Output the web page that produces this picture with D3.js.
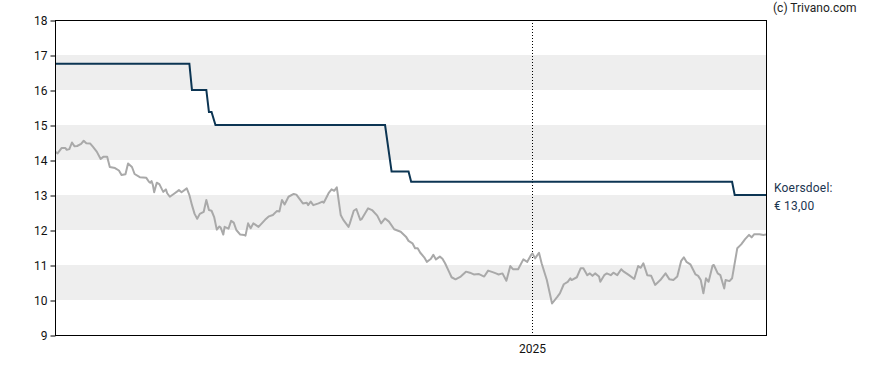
<!DOCTYPE html>
<html>
<head>
<meta charset="utf-8">
<script src="https://cdn.jsdelivr.net/npm/d3@7/dist/d3.min.js"></script>
<style>
  html, body { margin: 0; padding: 0; background: #fff; }
  svg { display: block; font-family: Roboto, "Noto Sans", sans-serif; }
</style>
</head>
<body>
<svg id="chart" width="888" height="370"></svg>
<script>
// ---- Data ----
const startDate = new Date(2024, 0, 1);
const endDate = new Date(2025, 5, 29);
const yTicks = [9, 10, 11, 12, 13, 14, 15, 16, 17, 18];
const bands = [[10, 11], [12, 13], [14, 15], [16, 17]];
const xTickDates = [new Date(2025, 0, 1)];
const xTickLabels = ["2025"];

// Koers (price), days since start date
const priceDays = [0,2,5,8,9,11,13,15,17,20,22,24,27,29,32,35,37,40,42,46,49,51,54,56,59,61,65,70,72,73,74,75,76,78,80,82,83,85,86,88,91,94,95,97,101,103,105,107,109,111,114,116,118,120,122,124,126,127,129,130,133,135,137,139,142,145,146,148,150,152,156,161,164,167,170,172,174,176,179,183,185,188,190,193,194,196,198,202,205,206,210,212,214,216,219,221,225,226,229,231,234,235,240,243,247,250,253,256,260,265,269,271,274,276,278,280,283,285,288,290,292,295,297,299,302,304,307,311,315,318,321,325,329,332,336,338,340,343,346,349,351,355,359,362,365,366,368,371,373,377,381,385,387,390,393,395,396,400,403,405,408,410,412,414,417,418,421,423,426,428,431,434,436,440,444,447,449,451,454,457,460,464,468,471,474,477,480,482,484,487,491,493,495,497,499,501,504,505,508,510,513,514,517,519,523,526,529,532,534,536,540,543,545];
const priceValues = [14.24,14.19,14.34,14.34,14.29,14.31,14.50,14.39,14.40,14.46,14.55,14.48,14.47,14.38,14.24,14.03,14.09,14.09,13.80,13.77,13.70,13.57,13.59,13.90,13.80,13.60,13.51,13.49,13.38,13.35,13.40,13.29,13.08,13.35,13.31,13.16,13.09,13.16,13.05,12.95,13.03,13.11,13.14,13.08,13.19,13.00,12.71,12.46,12.32,12.46,12.52,12.86,12.57,12.55,12.37,12.01,12.10,12.07,11.87,12.09,12.04,12.26,12.21,12.00,11.87,11.86,11.84,12.19,12.05,12.19,12.09,12.29,12.39,12.43,12.54,12.53,12.86,12.73,12.95,13.03,13.01,12.86,12.76,12.78,12.71,12.81,12.71,12.76,12.81,12.78,13.07,13.16,13.12,13.22,12.43,12.29,12.09,12.19,12.55,12.60,12.29,12.31,12.62,12.57,12.41,12.19,12.33,12.24,12.02,11.95,11.81,11.69,11.62,11.48,11.48,11.35,11.22,11.09,11.17,11.29,11.16,11.24,11.18,11.05,10.81,10.65,10.59,10.67,10.81,10.78,10.73,10.74,10.67,10.84,10.79,10.76,10.73,10.76,10.55,10.97,10.88,10.88,11.16,11.09,11.29,11.33,11.19,11.35,11.05,10.57,9.90,10.09,10.19,10.45,10.52,10.62,10.57,10.65,10.91,10.91,10.71,10.76,10.69,10.76,10.67,10.52,10.71,10.76,10.71,10.78,10.71,10.88,10.81,10.71,10.60,10.97,10.92,11.05,10.71,10.69,10.43,10.57,10.76,10.59,10.57,10.67,11.12,11.22,11.09,11.02,10.73,10.69,10.57,10.19,10.62,10.52,10.98,11.00,10.76,10.71,10.33,10.57,10.54,10.62,11.48,11.59,11.74,11.86,11.79,11.88,11.88,11.86,11.87];

// Koersdoel (price target)
const targetDays = [0,103,105,116,118,120,123,253,258,271,273,519,521,545];
const targetValues = [16.75,16.75,16.00,16.00,15.37,15.37,15.00,15.00,13.67,13.67,13.38,13.38,13.00,13.00];

const targetLabel = ["Koersdoel:", "€ 13,00"];
const copyright = "(c) Trivano.com";

// ---- Layout ----
const margin = { left: 55, right: 122, top: 20, bottom: 35 };
const W = 888, H = 370;
const svg = d3.select("#chart");
const x = d3.scaleTime().domain([startDate, endDate]).range([margin.left, W - margin.right]);
const y = d3.scaleLinear().domain([9, 18]).range([H - margin.bottom, margin.top]);
const dayToDate = d => d3.timeDay.offset(startDate, d);

svg.append("defs").append("clipPath").attr("id", "clip")
  .append("rect").attr("x", x.range()[0]).attr("y", y(18))
  .attr("width", x.range()[1] - x.range()[0]).attr("height", y(9) - y(18));

// bands
svg.append("g").selectAll("rect").data(bands).join("rect")
  .attr("x", x.range()[0]).attr("width", x.range()[1] - x.range()[0])
  .attr("y", d => y(d[1])).attr("height", d => y(d[0]) - y(d[1]))
  .attr("fill", "#eeeeee");

// year divider
svg.append("g").selectAll("line").data(xTickDates).join("line")
  .attr("x1", d => Math.round(x(d)) + 0.5).attr("x2", d => Math.round(x(d)) + 0.5)
  .attr("y1", y(18)).attr("y2", y(9))
  .attr("stroke", "#000").attr("stroke-width", 1).attr("stroke-dasharray", "1,2");

svg.append("g").selectAll("text").data(xTickDates).join("text")
  .attr("x", d => x(d)).attr("y", 353)
  .attr("text-anchor", "middle").attr("font-size", 12).attr("fill", "#111")
  .text((d, i) => xTickLabels[i]);

// lines
const priceData = priceDays.map((d, i) => [dayToDate(d), priceValues[i]]);
const targetData = targetDays.map((d, i) => [dayToDate(d), targetValues[i]]);
const line = d3.line().x(d => x(d[0])).y(d => y(d[1]));

svg.append("path").datum(priceData).attr("clip-path", "url(#clip)")
  .attr("d", line).attr("fill", "none").attr("stroke", "#a9a9a9")
  .attr("stroke-width", 2).attr("stroke-linejoin", "round");

svg.append("path").datum(targetData).attr("clip-path", "url(#clip)")
  .attr("d", line).attr("fill", "none").attr("stroke", "#0c3553")
  .attr("stroke-width", 2);

// frame
const x0 = x.range()[0] + 0.5, x1 = x.range()[1] + 0.5;
svg.append("rect").attr("x", x0).attr("y", y(18) + 0.5)
  .attr("width", x1 - x0).attr("height", y(9) - y(18))
  .attr("fill", "none").attr("stroke", "#000").attr("stroke-width", 1);

// y axis
const yAxis = d3.axisLeft(y).tickValues(yTicks).tickSize(5).tickPadding(3).tickFormat(d3.format("d"));
const ga = svg.append("g").attr("transform", `translate(${x0},0.5)`).call(yAxis);
ga.select(".domain").remove();
ga.selectAll("text").attr("font-size", 12).attr("font-family", "Roboto, sans-serif").attr("fill", "#111").attr("dy", "0.35em");
ga.selectAll("line").attr("stroke", "#000");

// labels
svg.append("text").attr("x", 773).attr("y", 12).attr("font-size", 12).attr("fill", "#222").text(copyright);
svg.append("g").selectAll("text").data(targetLabel).join("text")
  .attr("x", 774).attr("y", (d, i) => 192 + i * 18)
  .attr("font-size", 12).attr("fill", "#1b3550").attr("letter-spacing", "0.2px")
  .text(d => d);
</script>
</body>
</html>
